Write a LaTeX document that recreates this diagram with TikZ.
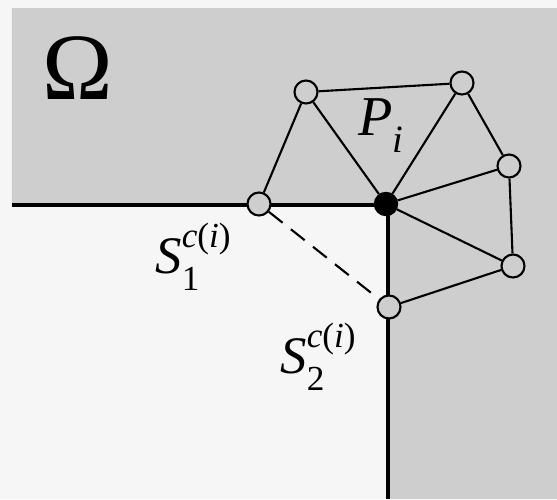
\documentclass[tikz,border=0pt]{standalone}
\usepackage{fontspec}
\setmainfont{Liberation Serif}
\usepackage{tikz}
\usetikzlibrary{calc}
\definecolor{myshade}{RGB}{206,206,206}
\definecolor{mypaper}{RGB}{246,246,246}
\newcommand{\sidelbl}[1]{\textit{S}\rlap{\raisebox{-0.32em}{\fontsize{10}{10}\selectfont #1}}\raisebox{0.5em}{\fontsize{10}{10}\selectfont\textit{c}(\textit{i})}}

\begin{document}
\begin{tikzpicture}[x=0.01cm,y=-0.01cm,
  vtx/.style={draw, circle, fill=myshade, line width=0.6pt, inner sep=0pt, minimum size=0.23cm},
  pvtx/.style={draw, circle, fill=black, inner sep=0pt, minimum size=0.23cm},
  edge/.style={line width=0.6pt}]
  \useasboundingbox[fill=mypaper] (0,0) rectangle (557,499);
  % Domain
  \fill[myshade] (12,8) -- (557,8) -- (557,499) -- (388,499) -- (388,205) -- (12,205) -- cycle;
  \coordinate (left) at (12,205);
  \coordinate (corner) at (388,205);
  \coordinate (bottom) at (388,499);
  % Boundary
  \draw[line width=1.4pt] (left) -- (corner) -- (bottom);

  \node[vtx] (a) at (306,92) {};
  \node[vtx] (b) at (462,83) {};
  \node[vtx] (c) at (509,166) {};
  \node[vtx] (d) at (513,266) {};
  \node[vtx] (e) at (389,307) {};
  \node[vtx] (f) at (259,204) {};
  \node[pvtx] (p) at (386,204) {};

  % Patch
  \draw[edge] (a) -- (b);
  \draw[edge] (a) -- (f);
  \draw[edge] (a) -- (p);
  \draw[edge] (b) -- (p);
  \draw[edge] (b) -- (c);
  \draw[edge] (c) -- (p);
  \draw[edge] (c) -- (d);
  \draw[edge] (d) -- (p);
  \draw[edge] (d) -- (e);
  % Cut corner
  \draw[edge,dashed,dash pattern=on 5pt off 3pt] (f) -- (e);

  \node (omega) at (78,68) {\fontsize{27}{30}\selectfont Ω};
  \node (pi) at (381,126) {\fontsize{16}{18}\selectfont\textit{P}\raisebox{-0.3em}{\fontsize{11}{11}\selectfont\textit{i}}};
  \node (s1) at (193,257) {\fontsize{15}{17}\selectfont\sidelbl{1}};
  \node (s2) at (318,357) {\fontsize{15}{17}\selectfont\sidelbl{2}};
\end{tikzpicture}
\end{document}
